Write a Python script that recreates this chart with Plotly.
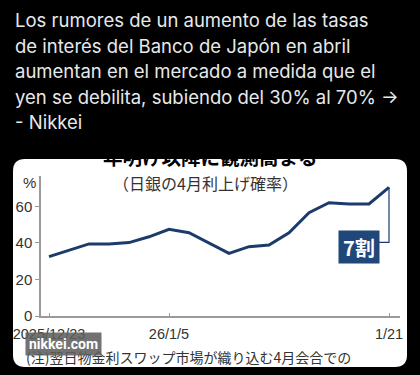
import plotly.graph_objects as go

# ---- data ----
dates = ["2025/12/23", "12/24", "12/25", "12/26", "12/29", "12/30",
         "2026/1/5", "1/6", "1/7", "1/8", "1/9", "1/13", "1/14", "1/15",
         "1/16", "1/19", "1/20", "1/21"]
probability = [32.5, 36.0, 39.5, 39.5, 40.2, 43.4, 47.5, 45.6, 40.0, 34.3,
               38.0, 38.9, 45.6, 56.6, 62.1, 61.4, 61.4, 70.5]
tick_idx = [0, 6, 17]
tick_labels = ["2025/12/23", "26/1/5", "1/21"]
y_ticks = [0, 20, 40, 60]

tweet_lines = [
    "Los rumores de un aumento de las tasas",
    "de interés del Banco de Japón en abril",
    "aumentan en el mercado a medida que el",
    "yen se debilita, subiendo del 30% al 70% →",
    "- Nikkei",
]
title = "年明け以降に観測高まる"
subtitle = "（日銀の4月利上げ確率）"
note = "(注)翌日物金利スワップ市場が織り込む4月会合での"
callout = "7割"

W, H = 420, 375
L, R, T, B = 41, 20, 176, 59
PW, PH = W - L - R, H - T - B


def px(x, y):
    return (x - L) / PW, (H - B - y) / PH


NUM = "Liberation Sans, Arial, sans-serif"
JP = "Noto Sans CJK JP"
LINE = "#1c3b6c"

fig = go.Figure()
fig.add_trace(go.Scatter(x=dates, y=probability, mode="lines",
                         line=dict(color=LINE, width=3), hoverinfo="skip"))

# card
x0, y0 = px(13, 367)
x1, y1 = px(407, 159)
rx, ry = 12 / PW, 12 / PH
card = (f"M {x0+rx},{y0} L {x1-rx},{y0} Q {x1},{y0} {x1},{y0+ry} "
        f"L {x1},{y1-ry} Q {x1},{y1} {x1-rx},{y1} L {x0+rx},{y1} "
        f"Q {x0},{y1} {x0},{y1-ry} L {x0},{y0+ry} Q {x0},{y0} {x0+rx},{y0} Z")
shapes = [dict(type="path", xref="paper", yref="paper", path=card,
               fillcolor="white", line=dict(width=0), layer="below")]
# connector from last point to callout
shapes.append(dict(type="path", xref="x", yref="y", xsizemode="pixel",
                   ysizemode="pixel", xanchor=len(dates) - 1,
                   yanchor=probability[-1],
                   path="M 0,0 L 0,-55 L -10,-55",
                   line=dict(color=LINE, width=1.2), layer="above"))

ann = []
for i, t in enumerate(tweet_lines):
    ax, ay = px(13, 20 + i * 25.5)
    ann.append(dict(xref="paper", yref="paper", x=ax, y=ay, text=t,
                    showarrow=False, xanchor="left", yanchor="middle",
                    font=dict(family="Inter, Roboto, sans-serif", size=18.5,
                              color="#e7e9ea")))
tx, ty = px(210, 156)
ann.append(dict(xref="paper", yref="paper", x=tx, y=ty, text=f"<b>{title}</b>",
                showarrow=False, xanchor="center", yanchor="middle",
                font=dict(family=JP, size=19.5, color="#000")))
sx, sy = px(205, 183)
ann.append(dict(xref="paper", yref="paper", x=sx, y=sy, text=subtitle,
                showarrow=False, xanchor="center", yanchor="middle",
                font=dict(family=JP, size=16, color="#333")))
pcx, pcy = px(29, 182)
ann.append(dict(xref="paper", yref="paper", x=pcx, y=pcy, text="%",
                showarrow=False, xanchor="center", yanchor="middle",
                font=dict(family=NUM, size=15, color="#333")))
nx, ny = px(24, 357)
ann.append(dict(xref="paper", yref="paper", x=nx, y=ny, text=note,
                showarrow=False, xanchor="left", yanchor="middle",
                font=dict(family=JP, size=14, color="#333")))
wx, wy = px(25, 343.5)
ann.append(dict(xref="paper", yref="paper", x=wx, y=wy, text="<b>nikkei.com</b>",
                showarrow=False, xanchor="left", yanchor="middle",
                bgcolor="rgba(95,95,95,0.88)", borderpad=3,
                font=dict(family="Roboto, sans-serif", size=14, color="white")))
ann.append(dict(xref="x", yref="y", x=len(dates) - 1, y=probability[-1],
                text=f"<b>{callout}</b>", showarrow=False,
                xanchor="center", yanchor="middle", xshift=-30, yshift=-60,
                width=36, height=28, bgcolor="#1f4779", borderpad=2,
                font=dict(family=JP, size=20, color="white")))

fig.update_layout(
    width=W, height=H, margin=dict(l=L, r=R, t=T, b=B, autoexpand=False),
    paper_bgcolor="black", plot_bgcolor="rgba(0,0,0,0)",
    showlegend=False, shapes=shapes, annotations=ann,
    xaxis=dict(type="category", range=[-0.4, 17.55], showline=True,
               automargin=False, ticklabelstandoff=4,
               linecolor="#9a9a9a", linewidth=1.5, ticks="inside", ticklen=3,
               tickcolor="#9a9a9a", tickvals=[dates[i] for i in tick_idx],
               ticktext=tick_labels, showgrid=False, zeroline=False,
               tickfont=dict(family=NUM, size=14.5, color="#333")),
    yaxis=dict(range=[0, 76.7], showline=True, linecolor="#9a9a9a",
               automargin=False,
               linewidth=1.5, ticks="outside", ticklen=4, tickcolor="#9a9a9a",
               tickvals=y_ticks, showgrid=False, zeroline=False,
               tickfont=dict(family=NUM, size=15, color="#333")),
)
fig.write_html("out.html")
